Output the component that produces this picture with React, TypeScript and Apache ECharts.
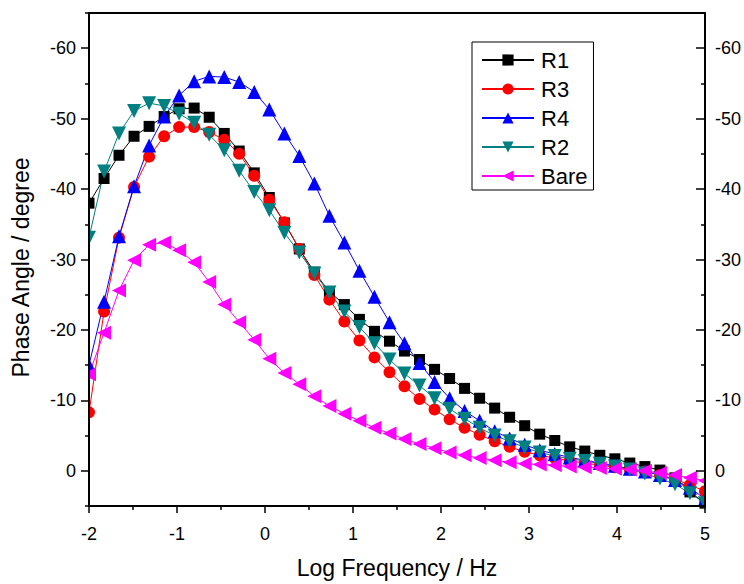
import React, { useEffect, useRef } from 'react';
import * as echarts from 'echarts';

const logFreq = [
  -2, -1.829, -1.659, -1.488, -1.317, -1.146, -0.976, -0.805, -0.634, -0.463,
  -0.293, -0.122, 0.049, 0.22, 0.39, 0.561, 0.732, 0.902, 1.073, 1.244,
  1.415, 1.585, 1.756, 1.927, 2.098, 2.268, 2.439, 2.61, 2.78, 2.951,
  3.122, 3.293, 3.463, 3.634, 3.805, 3.976, 4.146, 4.317, 4.488, 4.659,
  4.829, 5,
];

const r1 = [
  -38.0, -41.5, -44.8, -47.5, -48.9, -50.3, -51.4, -51.5, -50.2, -47.9,
  -45.4, -42.3, -38.8, -35.2, -31.5, -28.2, -25.4, -23.6, -21.5, -19.8,
  -18.4, -17.0, -15.8, -14.4, -13.1, -11.7, -10.3, -8.9, -7.6, -6.4,
  -5.2, -4.3, -3.4, -2.8, -2.2, -1.7, -1.1, -0.6, -0.1, 1.0,
  3.0, 4.6,
];

const r3 = [
  -8.3, -22.6, -33.1, -40.3, -44.6, -47.5, -48.8, -48.8, -48.1, -47.0,
  -45.0, -41.9, -38.5, -35.3, -31.5, -27.8, -24.3, -21.2, -18.5, -16.1,
  -14.0, -12.0, -10.2, -8.7, -7.3, -6.1, -5.1, -4.2, -3.4, -2.7,
  -2.2, -1.8, -1.4, -1.1, -0.8, -0.5, -0.2, 0.1, 0.6, 1.2,
  2.0, 2.9,
];

const r4 = [
  -15.0, -24.0, -33.3, -40.4, -46.2, -50.3, -53.3, -55.3, -56.0, -55.9,
  -55.2, -53.8, -51.3, -47.9, -44.7, -40.8, -36.2, -32.4, -28.4, -24.7,
  -21.1, -18.1, -15.3, -12.6, -10.3, -8.5, -7.1, -5.6, -4.6, -3.7,
  -2.9, -2.4, -1.9, -1.5, -1.1, -0.7, -0.3, 0.1, 0.6, 1.3,
  2.4, 4.0,
];

const r2 = [
  -33.1, -42.5, -47.9, -51.1, -52.2, -51.8, -50.7, -49.4, -47.7, -45.5,
  -42.6, -39.6, -37.0, -33.8, -31.0, -28.0, -25.3, -22.6, -20.4, -18.1,
  -15.8, -13.8, -12.1, -10.3, -8.8, -7.4, -6.1, -5.0, -4.2, -3.3,
  -2.6, -2.1, -1.7, -1.4, -1.0, -0.6, -0.2, 0.4, 1.1, 1.9,
  3.2, 4.6,
];

const bare = [
  -13.7, -19.6, -25.6, -29.9, -32.1, -32.4, -31.3, -29.6, -26.8, -23.6,
  -21.1, -18.6, -15.9, -13.9, -12.3, -10.6, -9.2, -8.1, -7.1, -6.1,
  -5.3, -4.5, -3.8, -3.2, -2.6, -2.2, -1.8, -1.5, -1.2, -1.0,
  -0.9, -0.8, -0.6, -0.5, -0.4, -0.3, -0.2, 0.0, 0.3, 0.6,
  1.0, 1.4,
];

const yMajorTicks = [-60, -50, -40, -30, -20, -10, 0];
const yMinorTicks = [-65, -55, -45, -35, -25, -15, -5, 5];

const FONT = "'Liberation Sans', Arial, sans-serif";

export default function App() {
  const ref = useRef<HTMLDivElement>(null);

  useEffect(() => {
    const chart = echarts.init(ref.current!, null, { renderer: 'svg' });

    const mk = (name: string, values: number[], color: string, symbol: string, size: number, rotate = 0) => ({
      name,
      type: 'line',
      xAxisIndex: 0,
      yAxisIndex: 0,
      data: logFreq.map((x, i) => [x, values[i]]),
      symbol,
      symbolSize: size,
      symbolRotate: rotate,
      showAllSymbol: true,
      clip: false,
      z: 2,
      lineStyle: { color, width: 1 },
      itemStyle: { color, borderWidth: 0 },
      emphasis: { disabled: true },
    });

    const yBase = {
      type: 'value',
      min: -65,
      max: 5,
      inverse: true,
      splitLine: { show: false },
      z: 10,
    };

    chart.setOption({
      animation: false,
      backgroundColor: '#fff',
      textStyle: { fontFamily: FONT },
      grid: { left: 89, right: 39, top: 13, bottom: 72, containLabel: false },
      legend: {
        orient: 'vertical',
        left: 472,
        top: 42,
        padding: [7, 6, 3, 9],
        itemGap: 7,
        itemWidth: 52,
        itemHeight: 14,
        borderColor: '#000',
        borderWidth: 1,
        backgroundColor: '#fff',
        z: 20,
        textStyle: { fontSize: 22, color: '#000', fontFamily: FONT, padding: [0, 0, 0, 2] },
        data: ['R1', 'R3', 'R4', 'R2', 'Bare'],
      },
      xAxis: [
        {
          type: 'value',
          position: 'bottom',
          min: -2,
          max: 5,
          interval: 1,
          z: 10,
          name: 'Log Frequency / Hz',
          nameLocation: 'middle',
          nameGap: 50,
          nameTextStyle: { fontSize: 23, color: '#000', fontFamily: FONT },
          axisLine: { show: true, onZero: false, lineStyle: { color: '#000', width: 2 } },
          axisTick: { show: true, inside: false, length: 7, lineStyle: { color: '#000', width: 1.5 } },
          minorTick: { show: true, splitNumber: 2, length: 4, lineStyle: { color: '#000', width: 1.5 } },
          axisLabel: { fontSize: 18, color: '#000', margin: 19, fontFamily: FONT },
          splitLine: { show: false },
        },
        {
          type: 'value',
          position: 'top',
          min: -2,
          max: 5,
          interval: 1,
          z: 10,
          axisLine: { show: true, onZero: false, lineStyle: { color: '#000', width: 2 } },
          axisTick: { show: false },
          axisLabel: { show: false },
          splitLine: { show: false },
        },
      ],
      yAxis: [
        {
          ...yBase,
          position: 'left',
          name: 'Phase Angle / degree',
          nameLocation: 'middle',
          nameRotate: 90,
          nameGap: 57,
          nameTextStyle: { fontSize: 23, color: '#000', fontFamily: FONT, padding: [0, 16, 0, 0] },
          axisLine: { show: true, onZero: false, lineStyle: { color: '#000', width: 2 } },
          axisTick: { show: true, inside: false, length: 8, customValues: yMajorTicks, lineStyle: { color: '#000', width: 1.5 } },
          axisLabel: { show: true, customValues: yMajorTicks, fontSize: 18, color: '#000', margin: 13, fontFamily: FONT },
        },
        {
          ...yBase,
          position: 'left',
          axisLine: { show: false, onZero: false },
          axisTick: { show: true, inside: false, length: 4, customValues: yMinorTicks, lineStyle: { color: '#000', width: 1.5 } },
          axisLabel: { show: false },
        },
        {
          ...yBase,
          position: 'right',
          axisLine: { show: true, onZero: false, lineStyle: { color: '#000', width: 2 } },
          axisTick: { show: true, inside: true, length: 9, customValues: yMajorTicks, lineStyle: { color: '#000', width: 1.5 } },
          axisLabel: { show: true, customValues: yMajorTicks, fontSize: 18, color: '#000', margin: 10, fontFamily: FONT },
        },
        {
          ...yBase,
          position: 'right',
          axisLine: { show: false, onZero: false },
          axisTick: { show: true, inside: true, length: 4, customValues: yMinorTicks, lineStyle: { color: '#000', width: 1.5 } },
          axisLabel: { show: false },
        },
      ],
      graphic: [
        { type: 'rect', z: 5, silent: true, shape: { x: 0, y: 0, width: 88, height: 584 }, style: { fill: '#fff' } },
        { type: 'rect', z: 5, silent: true, shape: { x: 706, y: 0, width: 38, height: 584 }, style: { fill: '#fff' } },
        { type: 'rect', z: 5, silent: true, shape: { x: 0, y: 0, width: 744, height: 12 }, style: { fill: '#fff' } },
        { type: 'rect', z: 5, silent: true, shape: { x: 0, y: 513, width: 744, height: 71 }, style: { fill: '#fff' } },
      ],
      series: [
        mk('R1', r1, '#000000', 'rect', 11),
        mk('R3', r3, '#ff0000', 'circle', 12),
        mk('R4', r4, '#0000ff', 'triangle', 14),
        mk('R2', r2, '#008080', 'triangle', 14, 180),
        mk('Bare', bare, '#ff00ff', 'triangle', 14, 90),
      ],
    });

    return () => chart.dispose();
  }, []);

  return <div ref={ref} style={{ position: 'fixed', left: 0, top: 0, width: 744, height: 584 }} />;
}
